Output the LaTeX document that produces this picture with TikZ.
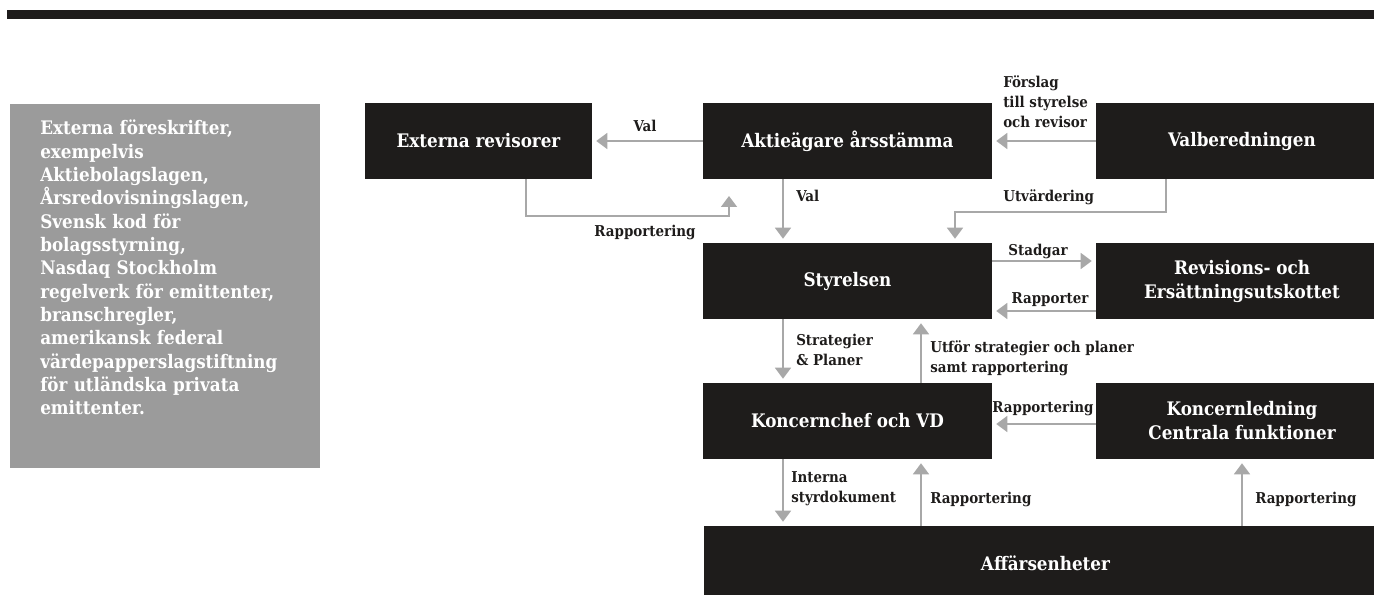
\documentclass[tikz,border=0pt]{standalone}
\usepackage{fontspec}
\setmainfont{DejaVu Serif Condensed}
\usetikzlibrary{arrows.meta}
\usetikzlibrary{calc}

\definecolor{boxblack}{HTML}{1E1C1B}
\definecolor{infogray}{HTML}{9B9B9B}
\definecolor{arrowgray}{HTML}{A8A8A8}

\tikzset{
	orgbox/.style={fill=boxblack, text=white, inner sep=0pt, minimum height=57pt, align=center, font=\fontsize{14pt}{18pt}\selectfont\bfseries},
	infobox/.style={fill=infogray, text=white, anchor=north west, text width=187.5pt, align=left, inner xsep=22.5pt, inner ysep=12pt, text depth=237.5pt, font=\fontsize{14pt}{17.5pt}\selectfont\bfseries},
	arr/.style={draw=arrowgray, line width=1.1pt, -{Triangle[length=8.25pt,width=12pt]}, shorten >=3pt},
	lbl/.style={text=boxblack, inner sep=0pt, align=left, font=\fontsize{11.2pt}{15pt}\selectfont\bfseries}
}

\begin{document}
\begin{tikzpicture}[x=0.75pt, y=-0.75pt]
		\useasboundingbox (0,0) rectangle (1374,595);
		% top rule
		\fill[boxblack] (7,10) rectangle (1374,19);

		% Define the boxes
		\node[infobox] (regler) at (10,104) {Externa föreskrifter,\\exempelvis\\Aktiebolagslagen,\\Årsredovisningslagen,\\Svensk kod för\\bolagsstyrning,\\Nasdaq Stockholm\\regelverk för emittenter,\\branschregler,\\amerikansk federal\\värdepapperslagstiftning\\för utländska privata\\emittenter.};
		\node[orgbox, minimum width=170.25pt] (revisorer) at (478.5,141) {Externa revisorer};
		\node[orgbox, minimum width=216.75pt] (stamma) at (847.5,141) {Aktieägare årsstämma};
		\node[orgbox, minimum width=219pt] (valberedning) at (1242,141) {Valberedningen};
		\node[orgbox, minimum width=216.75pt] (styrelsen) at (847.5,281) {Styrelsen};
		\node[orgbox, minimum width=219pt] (utskott) at (1242,281) {Revisions- och\\Ersättningsutskottet};
		\node[orgbox, minimum width=216.75pt] (vd) at (847.5,421) {Koncernchef och VD};
		\node[orgbox, minimum width=219pt] (ledning) at (1242,421) {Koncernledning\\Centrala funktioner};
		\node[orgbox, minimum width=512.25pt, minimum height=55.5pt] (affar) at (1045.5,563) {Affärsenheter};

		% Define the bends
		\coordinate (rapp) at (526,216);
		\coordinate (rapptip) at (729,196);
		\coordinate (utv1) at (1166,212);
		\coordinate (utv2) at (955,212);
		\coordinate (downx) at (783,0);
		\coordinate (upx) at (921,0);

		% Draw the arrows
		\draw[arr] (stamma.west) -- (revisorer.east);
		\draw[arr] (valberedning.west) -- (stamma.east);
		\draw[arr, shorten >=0pt] (revisorer.south -| rapp) -- (rapp) -| (rapptip);
		\draw[arr] (stamma.south -| downx) -- (styrelsen.north -| downx);
		\draw[arr] (valberedning.south -| utv1) -- (utv1) -- (utv2) -- (styrelsen.north -| utv2);
		\draw[arr] ($(styrelsen.east)+(0,-20)$) -- ($(utskott.west)+(0,-20)$);
		\draw[arr] ($(utskott.west)+(0,30)$) -- ($(styrelsen.east)+(0,30)$);
		\draw[arr] (styrelsen.south -| downx) -- (vd.north -| downx);
		\draw[arr] (vd.north -| upx) -- (styrelsen.south -| upx);
		\draw[arr] ($(ledning.west)+(0,3)$) -- ($(vd.east)+(0,3)$);
		\draw[arr] (vd.south -| downx) -- (affar.north -| downx);
		\draw[arr] (affar.north -| upx) -- (vd.south -| upx);
		\draw[arr] (affar.north -| ledning) -- (ledning.south);

		% Labels
		\foreach \lname/\lx/\ly/\lanchor/\ltext in {valtext/645/126/center/Val, rapptext/645/232/center/Rapportering, valned/796/196/west/Val, utvtext/1003/197/west/Utvärdering, stadgar/1038/251/center/Stadgar, rapporter/1050/300/center/Rapporter, rappvd/1043/408/center/Rapportering, rappaff/930/499/west/Rapportering, rappled/1255/499/west/Rapportering}
		\node[lbl, anchor=\lanchor] (\lname) at (\lx,\ly) {\ltext};
		\node[lbl, anchor=west] (forslag) at (1003,102) {Förslag\\till styrelse\\och revisor};
		\node[lbl, anchor=west] (strategier) at (796,350) {Strategier\\\& Planer};
		\node[lbl, anchor=west] (utfor) at (930,358) {Utför strategier och planer\\samt rapportering};
		\node[lbl, anchor=west] (interna) at (791,489) {Interna\\styrdokument};
\end{tikzpicture}
\end{document}
